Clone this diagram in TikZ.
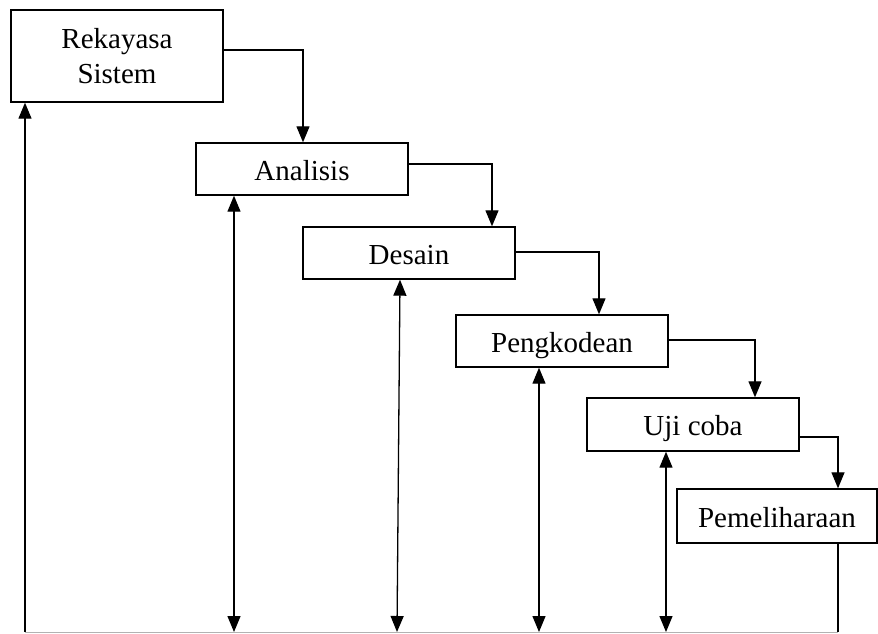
\documentclass[tikz,border=0pt]{standalone}
\usepackage{fontspec}
\setmainfont{Liberation Serif}
\usetikzlibrary{arrows.meta,positioning}
\begin{document}
\begin{tikzpicture}[x=1pt,y=-1pt,
  stage/.style={draw=black,line width=1.4pt,fill=white,inner sep=0pt,font=\fontsize{29}{35}\selectfont,align=center},
  oneline/.style={text height=22pt,text depth=0pt},
  flow/.style={line width=1.3pt,-{Triangle[width=13pt,length=16pt]}},
  both/.style={line width=1.3pt,{Triangle[width=13pt,length=16pt]}-{Triangle[width=13pt,length=16pt]}},
  plain/.style={line width=1.3pt}]
\useasboundingbox (0,0) rectangle (878,633);
% boxes
\node[stage,minimum width=212pt,minimum height=92pt] (rs) at (117,56) {Rekayasa\\Sistem};
\node[stage,oneline,minimum width=212pt,minimum height=52pt] (an) at (302,169) {Analisis};
\node[stage,oneline,minimum width=212pt,minimum height=52pt] (de) at (409,253) {Desain};
\node[stage,oneline,minimum width=212pt,minimum height=52pt] (pk) at (562,341) {Pengkodean};
\node[stage,oneline,minimum width=212pt,minimum height=53pt] (uj) at (693,424.5) {Uji coba};
\node[stage,oneline,minimum width=200pt,minimum height=54pt] (pm) at (777,516) {Pemeliharaan};
% flow connectors
\draw[flow] (rs.east |- 0,50) -| (an.north -| 303,0);
\draw[flow] (an.east |- 0,164) -| (de.north -| 492,0);
\draw[flow] (de.east |- 0,252) -| (pk.north -| 599,0);
\draw[flow] (pk.east |- 0,340) -| (uj.north -| 755,0);
\draw[flow] (uj.east |- 0,437) -| (pm.north -| 838,0);
% bottom feedback
\coordinate (b0) at (25,632);
\coordinate (b1) at (234,632);
\coordinate (b2) at (397,632);
\coordinate (b3) at (539,632);
\coordinate (b4) at (666,632);
\coordinate (b5) at (838,632);
\draw[gray!60,line width=1pt] (b0) -- (b5);
\draw[flow] (b0) -- (rs.south -| b0);
\draw[both] (an.south -| b1) -- (b1);
\draw[both] (de.south -| 400,0) -- (b2);
\draw[both] (pk.south -| b3) -- (b3);
\draw[both] (uj.south -| b4) -- (b4);
\draw[plain] (pm.south -| b5) -- (b5);
\end{tikzpicture}
\end{document}
